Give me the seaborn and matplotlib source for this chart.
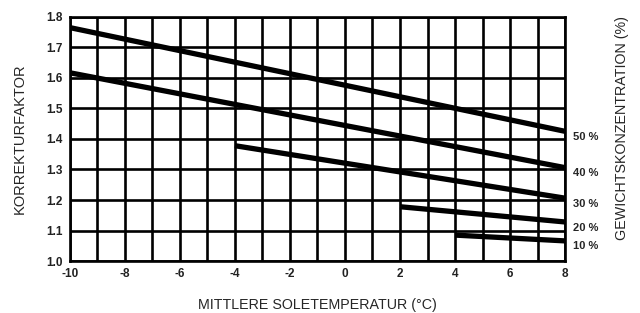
import matplotlib
matplotlib.use("Agg")
import matplotlib.pyplot as plt
import seaborn as sns
import pandas as pd

# Data
concentrations = ["50 %", "40 %", "30 %", "20 %", "10 %"]
x_start = [-10, -10, -4, 2, 4]
x_end = [8, 8, 8, 8, 8]
y_start = [1.765, 1.617, 1.378, 1.178, 1.085]
y_end = [1.425, 1.306, 1.206, 1.128, 1.066]

x_ticks = [-10, -8, -6, -4, -2, 0, 2, 4, 6, 8]
y_ticks = [1.0, 1.1, 1.2, 1.3, 1.4, 1.5, 1.6, 1.7, 1.8]

rows = []
for c, xs, xe, ys, ye in zip(concentrations, x_start, x_end, y_start, y_end):
    rows.append({"conc": c, "temp": xs, "factor": ys})
    rows.append({"conc": c, "temp": xe, "factor": ye})
df = pd.DataFrame(rows)

sns.set_style("white")
plt.rcParams["font.family"] = ["Liberation Sans", "DejaVu Sans"]
plt.rcParams["axes.unicode_minus"] = False

fig = plt.figure(figsize=(6.4, 3.13), dpi=100)
ax = fig.add_axes([0.109, 0.166, 0.774, 0.780])

sns.lineplot(data=df, x="temp", y="factor", hue="conc",
             palette=["black"] * len(concentrations), linewidth=3.8,
             legend=False, ax=ax, zorder=3, solid_capstyle="butt")

ax.set_xlim(-10, 8)
ax.set_ylim(1.0, 1.8)
ax.set_xticks(range(-10, 9, 1), minor=False)
ax.set_xticklabels([str(t) if t in x_ticks else "" for t in range(-10, 9)])
ax.set_yticks(y_ticks)
ax.set_yticklabels([f"{v:.1f}" for v in y_ticks])
ax.grid(True, color="black", linewidth=1.9)
for s in ax.spines.values():
    s.set_color("black")
    s.set_linewidth(1.9)
ax.tick_params(axis="both", length=0, labelsize=8.5, pad=5)
for lbl in ax.get_xticklabels() + ax.get_yticklabels():
    lbl.set_fontweight("bold")
    lbl.set_color("#222222")

for c, xe, ye in zip(concentrations, x_end, y_end):
    ax.annotate(c, xy=(xe, ye), xytext=(6, -4), textcoords="offset points",
                fontsize=8, fontweight="bold", va="center", ha="left",
                annotation_clip=False)

ax.set_xlabel("MITTLERE SOLETEMPERATUR (°C)", fontsize=10.3, labelpad=13)
ax.set_ylabel("KORREKTURFAKTOR", fontsize=10.5, labelpad=14)
fig.text(0.972, 0.59, "GEWICHTSKONZENTRATION (%)", rotation=90,
         fontsize=10.3, ha="center", va="center")

fig.savefig("out.png", dpi=100)
